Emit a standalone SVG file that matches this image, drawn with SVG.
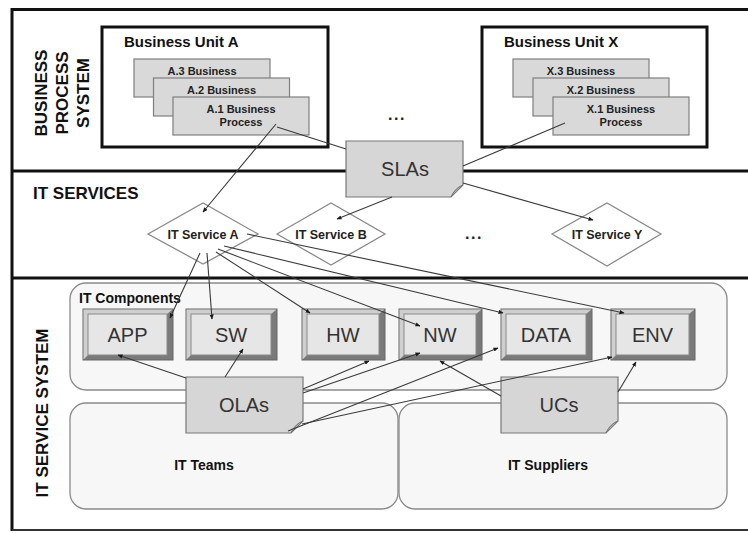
<svg xmlns="http://www.w3.org/2000/svg" width="748" height="533" viewBox="0 0 748 533">
  <defs>
    <marker id="arrow" viewBox="0 0 5 5" refX="4.5" refY="2.5" markerWidth="5" markerHeight="5" markerUnits="userSpaceOnUse" orient="auto">
      <path d="M0,0.4 L5,2.5 L0,4.6 Z" fill="#1a1a1a"/>
    </marker>
  </defs>
  <style>
    text { font-family: "Liberation Sans", Arial, sans-serif; }
    .frame { stroke: #111; stroke-width: 3; fill: none; }
    .unit { fill: #fff; stroke: #111; stroke-width: 3; }
    .proc { fill: #d9d9d9; stroke: #7f7f7f; stroke-width: 1.2; }
    .lane { font-size: 17px; font-weight: bold; fill: #111; }
    .title { font-size: 15px; font-weight: bold; fill: #111; }
    .ptext { font-size: 11px; font-weight: bold; fill: #222; text-anchor: middle; }
    .note { fill: #d6d6d6; stroke: #777; stroke-width: 1.2; }
    .fold { fill: #b8b8b8; stroke: #777; stroke-width: 0.8; }
    .ntext { font-size: 20px; fill: #333; text-anchor: middle; }
    .svc { fill: #fff; stroke: #8a8a8a; stroke-width: 1.3; }
    .stext { font-size: 12.5px; font-weight: bold; fill: #222; text-anchor: middle; }
    .group { fill: #f7f7f7; stroke: #8a8a8a; stroke-width: 1.3; }
    .gtext { font-size: 14px; font-weight: bold; fill: #111; }
    .btn-base { fill: #7a7a7a; stroke: #666; stroke-width: 1; }
    .btn-light { fill: #cfcfcf; }
    .btn-face { fill: #e6e6e6; stroke: #8a8a8a; stroke-width: 1; }
    .btext { font-size: 20px; fill: #333; text-anchor: middle; }
    .dots { font-size: 16px; font-weight: bold; fill: #222; letter-spacing: 1.5px; }
    .conn line { stroke: #3a3a3a; stroke-width: 1.1; }
    .conn .arr { marker-end: url(#arrow); }
  </style>

  <rect width="748" height="533" fill="#fff"/>

  <!-- outer frame and lane separators -->
  <g id="frame">
    <line class="frame" x1="12" y1="9.5" x2="748" y2="9.5"/>
    <line class="frame" x1="12" y1="8" x2="12" y2="531"/>
    <line class="frame" x1="12" y1="171" x2="748" y2="171"/>
    <line class="frame" x1="12" y1="278" x2="748" y2="278"/>
    <line x1="12" y1="530" x2="748" y2="530" stroke="#333" stroke-width="2"/>
  </g>

  <!-- lane titles -->
  <g id="lane-bps">
    <text class="lane" text-anchor="middle" transform="translate(47,93) rotate(-90)">BUSINESS</text>
    <text class="lane" text-anchor="middle" transform="translate(68,93) rotate(-90)">PROCESS</text>
    <text class="lane" text-anchor="middle" transform="translate(89,93) rotate(-90)">SYSTEM</text>
  </g>
  <g id="lane-its">
    <text class="lane" x="33" y="199">IT SERVICES</text>
  </g>
  <g id="lane-iss">
    <text class="lane" text-anchor="middle" transform="translate(48,413) rotate(-90)">IT SERVICE SYSTEM</text>
  </g>

  <!-- business units -->
  <g id="unit-a">
    <rect class="unit" x="102" y="27" width="226" height="120"/>
    <text class="title" x="124" y="47">Business Unit A</text>
    <rect class="proc" x="134" y="59" width="136" height="38"/>
    <text class="ptext" x="202" y="75">A.3 Business</text>
    <rect class="proc" x="153.5" y="78" width="136" height="38"/>
    <text class="ptext" x="221.5" y="94">A.2 Business</text>
    <rect class="proc" x="173" y="97" width="136" height="38"/>
    <text class="ptext" x="241" y="113">A.1 Business</text>
    <text class="ptext" x="241" y="126">Process</text>
  </g>
  <g id="unit-x">
    <rect class="unit" x="482" y="27" width="225" height="120"/>
    <text class="title" x="504" y="47">Business Unit X</text>
    <rect class="proc" x="513" y="59" width="136" height="38"/>
    <text class="ptext" x="581" y="75">X.3 Business</text>
    <rect class="proc" x="533" y="78" width="136" height="38"/>
    <text class="ptext" x="601" y="94">X.2 Business</text>
    <rect class="proc" x="553" y="97" width="136" height="38"/>
    <text class="ptext" x="621" y="113">X.1 Business</text>
    <text class="ptext" x="621" y="126">Process</text>
  </g>
  <g id="units-more">
    <text class="dots" x="388" y="120">...</text>
  </g>

  <!-- IT services -->
  <g id="svc-a">
    <polygon class="svc" points="148,234 203,203 258,234 203,264"/>
    <text class="stext" x="203" y="238.5">IT Service A</text>
  </g>
  <g id="svc-b">
    <polygon class="svc" points="277,234 331,203 385,234 331,265"/>
    <text class="stext" x="331" y="238.5">IT Service B</text>
  </g>
  <g id="svc-more">
    <text class="dots" x="465" y="239">...</text>
  </g>
  <g id="svc-y">
    <polygon class="svc" points="552,234 607,203 661,234 607,266"/>
    <text class="stext" x="607" y="238.5">IT Service Y</text>
  </g>

  <!-- IT service system groups -->
  <g id="it-components">
    <rect class="group" x="70" y="283" width="657" height="107" rx="16"/>
    <text class="gtext" x="79" y="303">IT Components</text>
  </g>
  <g id="it-teams">
    <rect class="group" x="70" y="403" width="328" height="106" rx="16"/>
    <text class="gtext" x="204" y="470" text-anchor="middle">IT Teams</text>
  </g>
  <g id="it-suppliers">
    <rect class="group" x="399" y="403" width="328" height="106" rx="16"/>
    <text class="gtext" x="548" y="470" text-anchor="middle">IT Suppliers</text>
  </g>

  <!-- component buttons: dark base, light top-left bevel, face -->
  <g id="comp-app">
    <rect class="btn-base" x="83" y="309" width="90" height="51"/>
    <polygon class="btn-light" points="83.5,309.5 172.5,309.5 167,314 88,314 88,355 83.5,359.5"/>
    <rect class="btn-face" x="88" y="314" width="79" height="41"/>
    <text class="btext" x="127.5" y="342">APP</text>
  </g>
  <g id="comp-sw">
    <rect class="btn-base" x="186" y="309" width="91" height="51"/>
    <polygon class="btn-light" points="186.5,309.5 276.5,309.5 271,314 191,314 191,355 186.5,359.5"/>
    <rect class="btn-face" x="191" y="314" width="80" height="41"/>
    <text class="btext" x="231" y="342">SW</text>
  </g>
  <g id="comp-hw">
    <rect class="btn-base" x="302" y="309" width="83" height="51"/>
    <polygon class="btn-light" points="302.5,309.5 384.5,309.5 379,314 307,314 307,355 302.5,359.5"/>
    <rect class="btn-face" x="307" y="314" width="72" height="41"/>
    <text class="btext" x="343" y="342">HW</text>
  </g>
  <g id="comp-nw">
    <rect class="btn-base" x="399" y="309" width="83" height="51"/>
    <polygon class="btn-light" points="399.5,309.5 481.5,309.5 476,314 404,314 404,355 399.5,359.5"/>
    <rect class="btn-face" x="404" y="314" width="72" height="41"/>
    <text class="btext" x="440" y="342">NW</text>
  </g>
  <g id="comp-data">
    <rect class="btn-base" x="501" y="309" width="91" height="51"/>
    <polygon class="btn-light" points="501.5,309.5 591.5,309.5 586,314 506,314 506,355 501.5,359.5"/>
    <rect class="btn-face" x="506" y="314" width="80" height="41"/>
    <text class="btext" x="546" y="342">DATA</text>
  </g>
  <g id="comp-env">
    <rect class="btn-base" x="611" y="309" width="84" height="51"/>
    <polygon class="btn-light" points="611.5,309.5 694.5,309.5 689,314 616,314 616,355 611.5,359.5"/>
    <rect class="btn-face" x="616" y="314" width="73" height="41"/>
    <text class="btext" x="652.5" y="342">ENV</text>
  </g>

  <!-- agreements (notes with a folded corner) -->
  <g id="note-slas">
    <path class="note" d="M346,141 H463 V185 L451,197 H346 Z"/>
    <path class="fold" d="M463,185 Q456,187 451,197 Q454,189 463,185 Z"/>
    <text class="ntext" x="405" y="176">SLAs</text>
  </g>
  <g id="note-olas">
    <path class="note" d="M186,377 H303 V421 L291,433 H186 Z"/>
    <path class="fold" d="M303,421 Q296,423 291,433 Q294,425 303,421 Z"/>
    <text class="ntext" x="244" y="412">OLAs</text>
  </g>
  <g id="note-ucs">
    <path class="note" d="M501,377 H618 V421 L606,433 H501 Z"/>
    <path class="fold" d="M618,421 Q611,423 606,433 Q609,425 618,421 Z"/>
    <text class="ntext" x="559" y="412">UCs</text>
  </g>

  <!-- connectors -->
  <g id="connectors" class="conn">
    <line class="arr" x1="276" y1="124" x2="203" y2="212"/>
    <line x1="277" y1="127" x2="346" y2="149"/>
    <line x1="565" y1="123" x2="463" y2="166"/>
    <line class="arr" x1="392" y1="197" x2="337" y2="219"/>
    <line class="arr" x1="463" y1="183" x2="593" y2="220"/>
    <line class="arr" x1="200" y1="253" x2="170" y2="318"/>
    <line class="arr" x1="207" y1="253" x2="212" y2="319"/>
    <line class="arr" x1="216" y1="252" x2="310" y2="313"/>
    <line class="arr" x1="218" y1="249" x2="420" y2="326"/>
    <line class="arr" x1="224" y1="246" x2="503" y2="313"/>
    <line class="arr" x1="247" y1="234" x2="624" y2="313"/>
    <line class="arr" x1="186" y1="378" x2="118" y2="355"/>
    <line class="arr" x1="225" y1="377" x2="243" y2="349"/>
    <line class="arr" x1="303" y1="389" x2="369" y2="361"/>
    <line class="arr" x1="303" y1="393" x2="420" y2="353"/>
    <line class="arr" x1="288" y1="431" x2="498" y2="348"/>
    <line class="arr" x1="302" y1="424" x2="612" y2="357"/>
    <line class="arr" x1="501" y1="396" x2="440" y2="361"/>
    <line class="arr" x1="618" y1="392" x2="636" y2="362"/>
  </g>
</svg>
